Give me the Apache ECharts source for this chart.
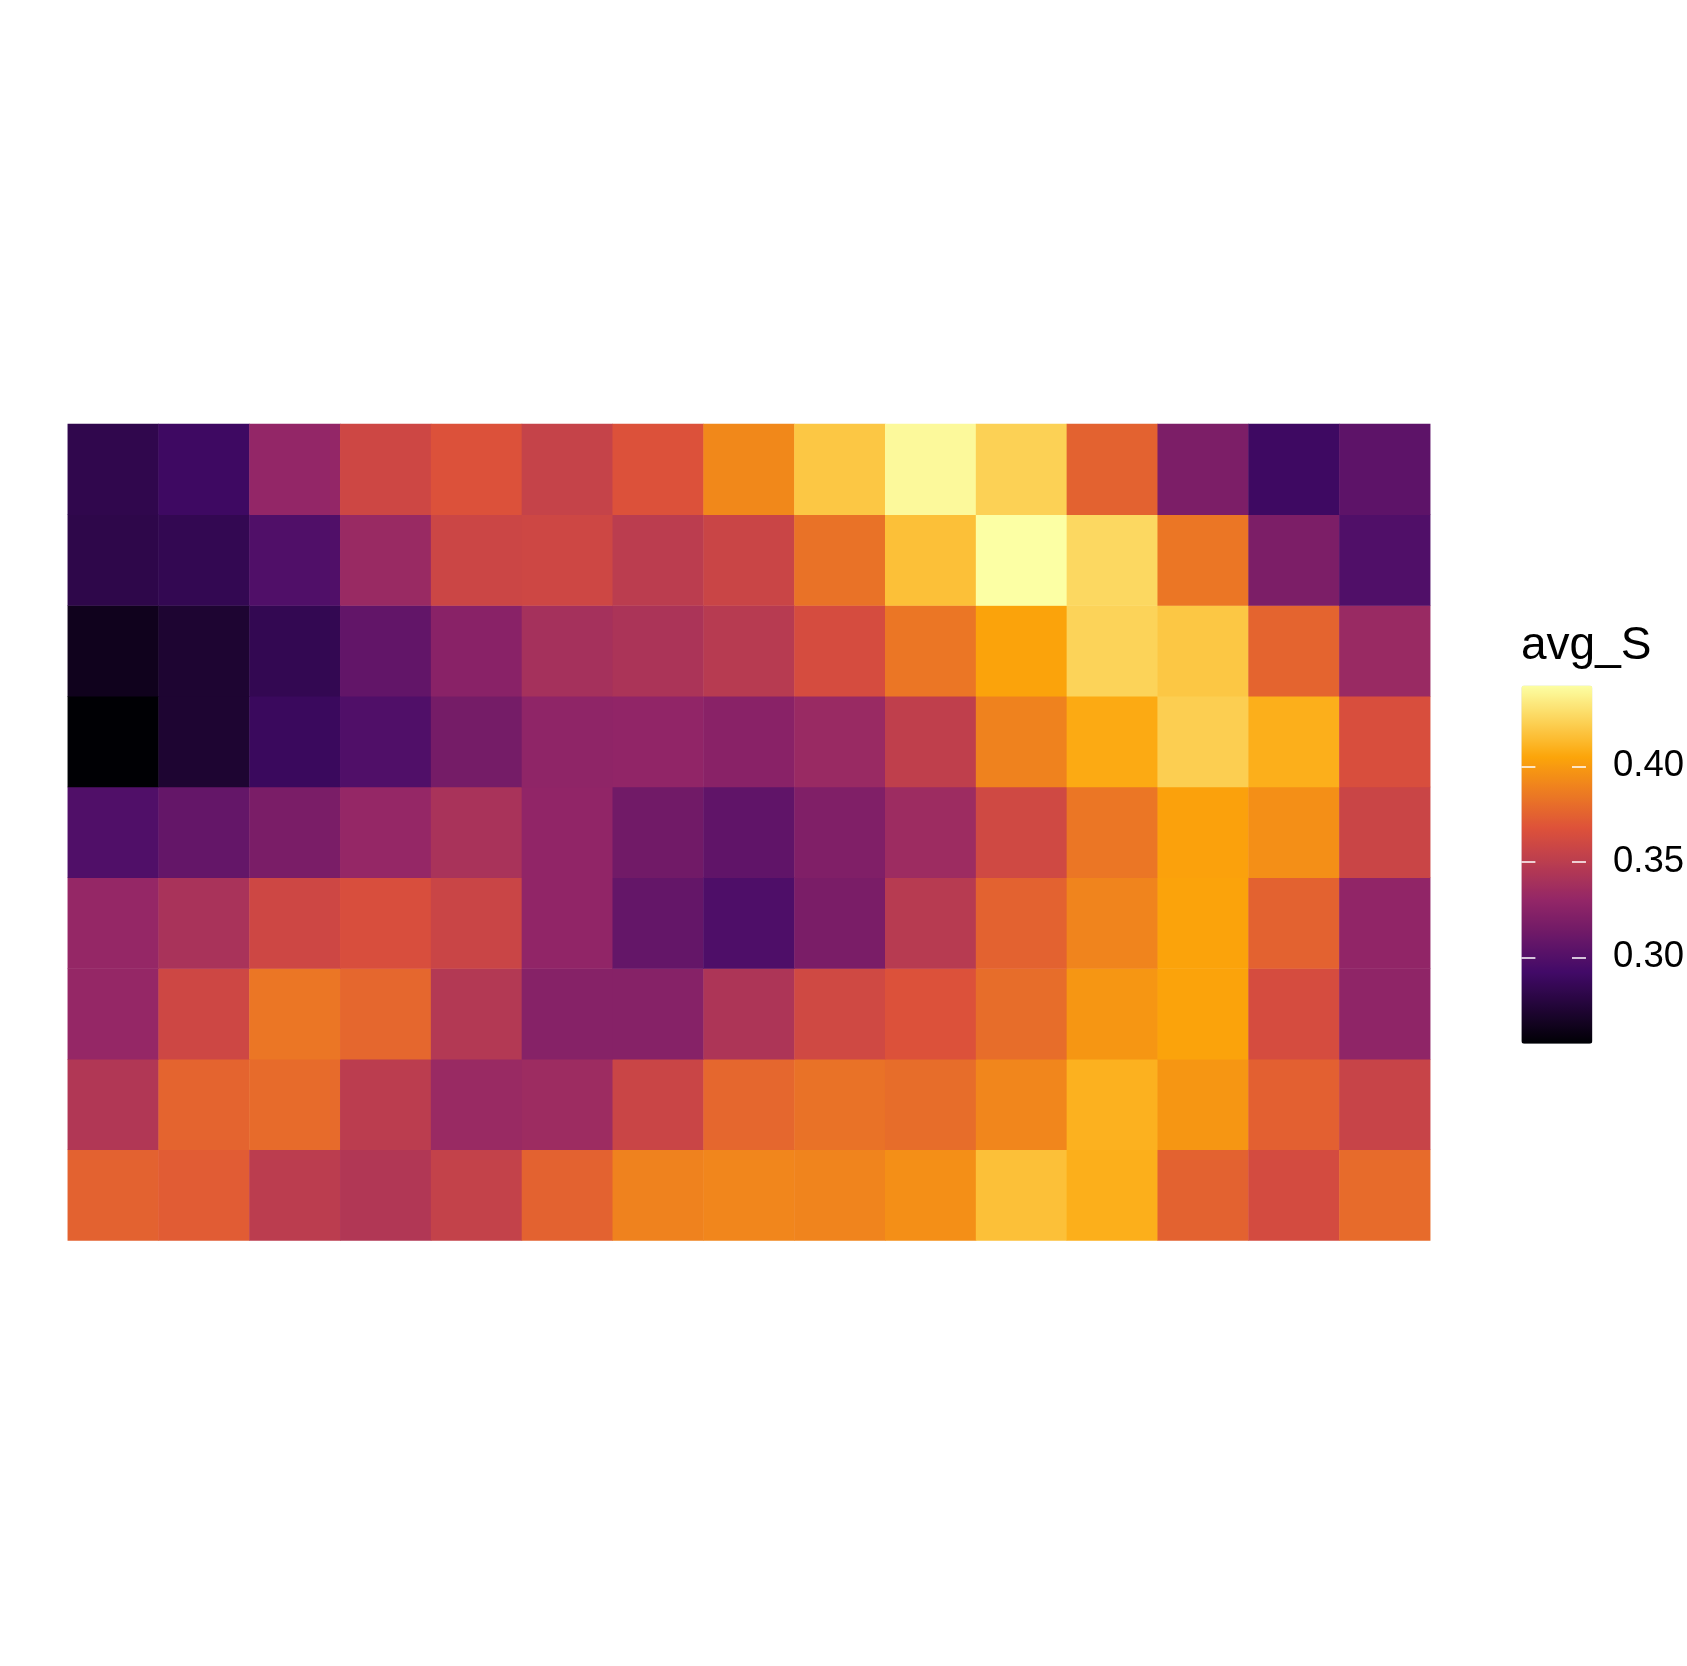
<!DOCTYPE html>
<html><head><meta charset="utf-8">
<script src="https://cdn.jsdelivr.net/npm/echarts@6/dist/echarts.min.js"></script>
<style>html,body{margin:0;padding:0;background:#fff}#c{width:1687px;height:1666px}</style>
</head><body><div id="c"></div>
<script>
// Column and row categories (row 1 = bottom)
const xCategories = ['1','2','3','4','5','6','7','8','9','10','11','12','13','14','15'];
const yCategories = ['1','2','3','4','5','6','7','8','9'];

// avg_S values, one array per row, listed from top row (9) to bottom row (1)
const row9 = [0.282,0.290,0.330,0.359,0.367,0.355,0.367,0.392,0.419,0.440,0.423,0.375,0.319,0.290,0.305];
const row8 = [0.281,0.284,0.299,0.333,0.358,0.359,0.350,0.357,0.382,0.416,0.4423,0.426,0.384,0.319,0.299];
const row7 = [0.264,0.272,0.284,0.307,0.325,0.339,0.342,0.348,0.363,0.384,0.404,0.424,0.419,0.376,0.333];
const row6 = [0.2548,0.272,0.288,0.299,0.316,0.328,0.329,0.325,0.333,0.352,0.389,0.407,0.422,0.409,0.365];
const row5 = [0.299,0.308,0.318,0.331,0.341,0.329,0.314,0.306,0.321,0.335,0.360,0.384,0.403,0.395,0.357];
const row4 = [0.331,0.341,0.359,0.365,0.357,0.329,0.308,0.298,0.318,0.348,0.375,0.390,0.404,0.375,0.329];
const row3 = [0.331,0.359,0.384,0.377,0.346,0.324,0.324,0.343,0.360,0.367,0.380,0.398,0.404,0.363,0.328];
const row2 = [0.345,0.376,0.379,0.350,0.333,0.335,0.357,0.377,0.382,0.380,0.391,0.410,0.398,0.374,0.356];
const row1 = [0.375,0.372,0.350,0.345,0.354,0.375,0.389,0.391,0.390,0.395,0.416,0.409,0.375,0.362,0.379];

// Colour scale (inferno, 6 stops) and legend
const legendTitle = 'avg_S';
const legendMin = 0.2548;
const legendMax = 0.4423;
const legendTicks = [0.30, 0.35, 0.40];
const palette = ['#000004','#420A68','#932667','#DD513A','#FCA50A','#FCFFA4'];

const rowsBottomUp = [row1,row2,row3,row4,row5,row6,row7,row8,row9];
const heatData = [];
rowsBottomUp.forEach((row, j) => row.forEach((v, i) => heatData.push([i, j, v])));

const FONT = '"Liberation Sans", Arial, Helvetica, sans-serif';
const chart = echarts.init(document.getElementById('c'), null, {renderer: 'canvas'});
const tickAxis = (pos, showLabel) => ({
  gridIndex: 1, type: 'value', min: legendMin, max: legendMax, position: pos, z: 10,
  axisLine: {show: false}, splitLine: {show: false},
  axisTick: {show: true, inside: true, length: 14, customValues: legendTicks,
             lineStyle: {color: '#ffffff', width: 1.5}},
  axisLabel: {show: showLabel, customValues: legendTicks, margin: 27, fontSize: 36.5,
              padding: [8, 0, 0, 0],
              color: '#000', fontFamily: FONT, formatter: v => v.toFixed(2)}
});
chart.setOption({
  backgroundColor: '#ffffff',
  animation: false,
  grid: [
    {left: 67.8, top: 424, width: 1362.4, height: 816.6},
    {left: 1521.4, top: 685.4, width: 71, height: 358.4}
  ],
  xAxis: [
    {gridIndex: 0, type: 'category', data: xCategories, show: false},
    {gridIndex: 1, type: 'value', show: false, min: 0, max: 1}
  ],
  yAxis: [
    {gridIndex: 0, type: 'category', data: yCategories, show: false},
    tickAxis('left', false),
    tickAxis('right', true)
  ],
  visualMap: {
    type: 'continuous', seriesIndex: 0, min: legendMin, max: legendMax,
    inRange: {color: palette}, show: true, calculable: false, hoverLink: false,
    orient: 'vertical', left: 1521.4, top: 685.4, itemWidth: 71, itemHeight: 358.4,
    padding: 0, text: null, showLabel: false
  },
  graphic: [{
    type: 'text', left: 1521, top: 623,
    style: {text: legendTitle, font: '46px ' + FONT, fill: '#000'}
  }],
  series: [{
    type: 'heatmap', xAxisIndex: 0, yAxisIndex: 0, data: heatData,
    itemStyle: {borderWidth: 0}, emphasis: {disabled: true}
  }]
});
</script></body></html>
